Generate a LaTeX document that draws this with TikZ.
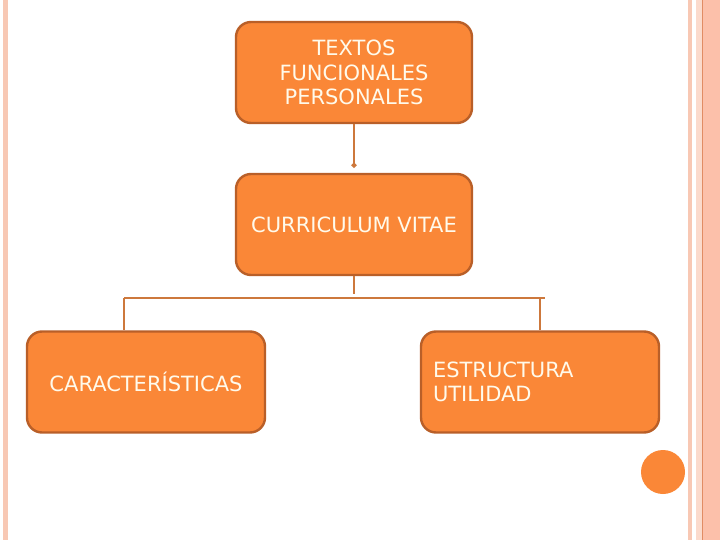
\documentclass[tikz,border=0pt]{standalone}
\usepackage{fontspec}
\setmainfont{DejaVu Sans}
\usetikzlibrary{arrows.meta}
\definecolor{boxfill}{RGB}{250,135,55}
\definecolor{boxline}{RGB}{185,95,40}
\definecolor{connc}{RGB}{205,120,60}
\definecolor{txtc}{RGB}{255,250,235}
\definecolor{stripA}{RGB}{248,200,180}
\definecolor{stripB}{RGB}{251,218,204}
\definecolor{stripC}{RGB}{252,192,170}
\definecolor{stripD}{RGB}{225,140,100}
\tikzset{
  orbox/.style={draw=boxline, line width=2.4pt, fill=boxfill, rounded corners=15pt,
    minimum width=236pt, minimum height=101pt, text=txtc, inner sep=0pt,
    font=\fontsize{21}{24.5}\selectfont},
  conn/.style={draw=connc, line width=2pt},
}
\begin{document}
\begin{tikzpicture}[x=1pt,y=-1pt]
\useasboundingbox (0,0) rectangle (720,540);
\fill[white] (0,0) rectangle (720,540);
% decorative strips
\fill[stripA] (3,0) rectangle (8,540);
\fill[stripA] (688,0) rectangle (692,540);
\fill[stripB] (696,0) rectangle (702,540);
\fill[stripC] (703,0) rectangle (720,540);
\fill[stripD] (702,0) rectangle (703.2,540);
% boxes
\node[orbox, align=center] (top) at (354,72.5) {TEXTOS\\FUNCIONALES\\PERSONALES};
\node[orbox] (mid) at (354,224.5) {CURRICULUM VITAE};
\node[orbox, minimum width=238pt] (left) at (146,382) {CARACTERÍSTICAS};
\node[orbox, minimum width=238pt, text width=214pt, align=left] (right) at (540,382) {ESTRUCTURA\\UTILIDAD};
% dot
\node[circle, fill=boxfill, minimum size=44pt, inner sep=0pt] (dot) at (663,472) {};
% connectors
\coordinate (hl) at (124,298);
\coordinate (hr) at (545,298);
\coordinate (hrv) at (540,298);
\draw[conn, -{Circle[length=5pt,width=5pt]}, shorten >=5pt] (top.south) -- (mid.north);
\draw[conn] (mid.south) -- ++(0,18);
\draw[conn] (hl) -- (hr);
\draw[conn] (hl) -- (hl |- left.north);
\draw[conn] (hrv) -- (hrv |- right.north);
\end{tikzpicture}
\end{document}
